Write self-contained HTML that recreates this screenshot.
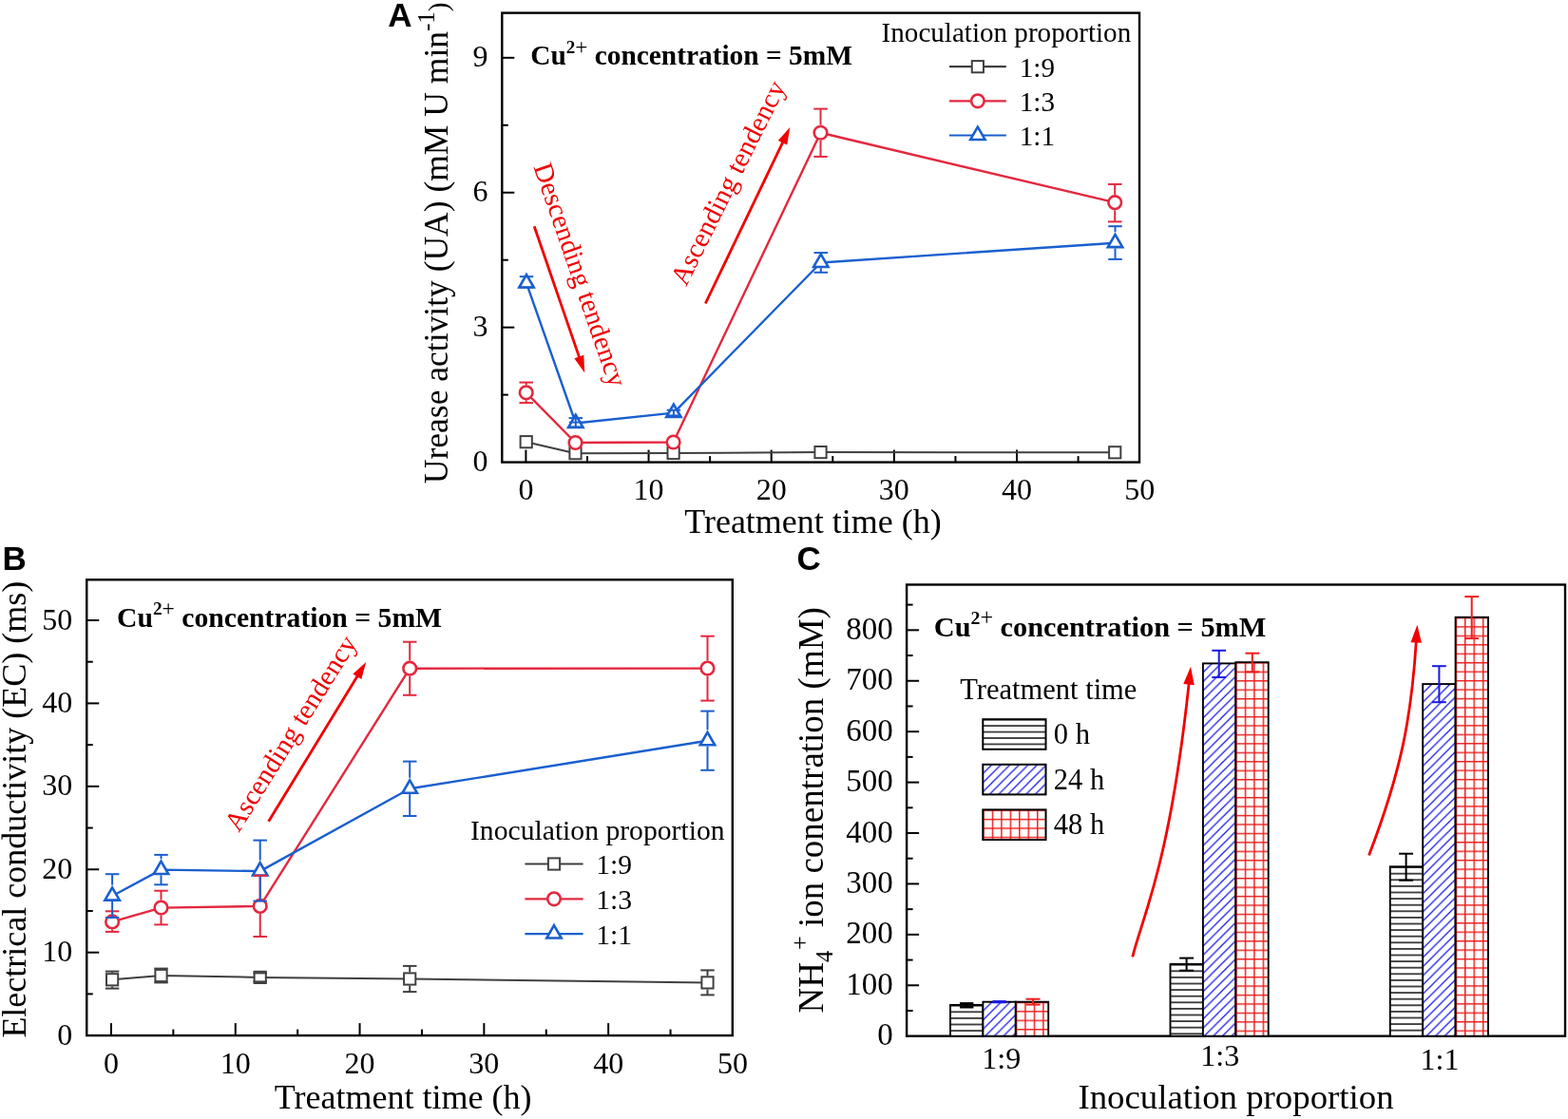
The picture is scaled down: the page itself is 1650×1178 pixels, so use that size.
<!DOCTYPE html>
<html><head><meta charset="utf-8"><title>Figure</title>
<style>html,body{margin:0;padding:0;background:#fff;overflow:hidden;}svg{display:block;}</style></head>
<body><svg width="1650" height="1178" viewBox="0 0 1650 1178">
<rect width="1650" height="1178" fill="#fff"/>
<rect x="528.3" y="13.6" width="670.7" height="473" fill="none" stroke="#000" stroke-width="2.4"/>
<line x1="528.3" y1="344.67" x2="541.3" y2="344.67" stroke="#000" stroke-width="2.0" />
<line x1="528.3" y1="202.74" x2="541.3" y2="202.74" stroke="#000" stroke-width="2.0" />
<line x1="528.3" y1="60.81" x2="541.3" y2="60.81" stroke="#000" stroke-width="2.0" />
<line x1="528.3" y1="415.63" x2="534.8" y2="415.63" stroke="#000" stroke-width="2.0" />
<line x1="528.3" y1="273.71" x2="534.8" y2="273.71" stroke="#000" stroke-width="2.0" />
<line x1="528.3" y1="131.77" x2="534.8" y2="131.77" stroke="#000" stroke-width="2.0" />
<line x1="553.4" y1="486.6" x2="553.4" y2="473.6" stroke="#000" stroke-width="2.0" />
<line x1="682.55" y1="486.6" x2="682.55" y2="473.6" stroke="#000" stroke-width="2.0" />
<line x1="811.7" y1="486.6" x2="811.7" y2="473.6" stroke="#000" stroke-width="2.0" />
<line x1="940.85" y1="486.6" x2="940.85" y2="473.6" stroke="#000" stroke-width="2.0" />
<line x1="1070" y1="486.6" x2="1070" y2="473.6" stroke="#000" stroke-width="2.0" />
<line x1="617.97" y1="486.6" x2="617.97" y2="480.1" stroke="#000" stroke-width="2.0" />
<line x1="747.12" y1="486.6" x2="747.12" y2="480.1" stroke="#000" stroke-width="2.0" />
<line x1="876.27" y1="486.6" x2="876.27" y2="480.1" stroke="#000" stroke-width="2.0" />
<line x1="1005.42" y1="486.6" x2="1005.42" y2="480.1" stroke="#000" stroke-width="2.0" />
<line x1="1134.57" y1="486.6" x2="1134.57" y2="480.1" stroke="#000" stroke-width="2.0" />
<text x="513.5" y="496" font-size="32" text-anchor="end" font-weight="normal" font-family="'Liberation Serif','Times New Roman',serif" fill="#000" >0</text>
<text x="513.5" y="354.07" font-size="32" text-anchor="end" font-weight="normal" font-family="'Liberation Serif','Times New Roman',serif" fill="#000" >3</text>
<text x="513.5" y="212.14" font-size="32" text-anchor="end" font-weight="normal" font-family="'Liberation Serif','Times New Roman',serif" fill="#000" >6</text>
<text x="513.5" y="70.21" font-size="32" text-anchor="end" font-weight="normal" font-family="'Liberation Serif','Times New Roman',serif" fill="#000" >9</text>
<text x="553.4" y="525.8" font-size="32" text-anchor="middle" font-weight="normal" font-family="'Liberation Serif','Times New Roman',serif" fill="#000" >0</text>
<text x="682.55" y="525.8" font-size="32" text-anchor="middle" font-weight="normal" font-family="'Liberation Serif','Times New Roman',serif" fill="#000" >10</text>
<text x="811.7" y="525.8" font-size="32" text-anchor="middle" font-weight="normal" font-family="'Liberation Serif','Times New Roman',serif" fill="#000" >20</text>
<text x="940.85" y="525.8" font-size="32" text-anchor="middle" font-weight="normal" font-family="'Liberation Serif','Times New Roman',serif" fill="#000" >30</text>
<text x="1070" y="525.8" font-size="32" text-anchor="middle" font-weight="normal" font-family="'Liberation Serif','Times New Roman',serif" fill="#000" >40</text>
<text x="1199.15" y="525.8" font-size="32" text-anchor="middle" font-weight="normal" font-family="'Liberation Serif','Times New Roman',serif" fill="#000" >50</text>
<text x="855.5" y="561.4" font-size="36" text-anchor="middle" font-weight="normal" font-family="'Liberation Serif','Times New Roman',serif" fill="#000" >Treatment time (h)</text>
<text transform="translate(471.0,255.8) rotate(-90)" font-size="35.5" text-anchor="middle" font-family="'Liberation Serif','Times New Roman',serif" fill="#000">Urease activity (UA) (mM U min<tspan font-size="25" dy="-14.3">-1</tspan><tspan font-size="29" dy="14.3">)</tspan></text>
<text x="408.3" y="28.2" font-size="35" text-anchor="start" font-weight="bold" font-family="'Liberation Sans',Arial,sans-serif" fill="#000" >A</text>
<text x="558.3" y="68.2" font-size="29.37" font-weight="bold" font-family="'Liberation Serif','Times New Roman',serif" fill="#000">Cu<tspan font-size="19" dy="-12.6">2</tspan><tspan font-size="23.18" font-weight="normal" dy="1.2">+</tspan><tspan dy="11.4"> concentration = 5mM</tspan></text>
<text x="927.6" y="44.3" font-size="29.1" text-anchor="start" font-weight="normal" font-family="'Liberation Serif','Times New Roman',serif" fill="#000" >Inoculation proportion</text>
<line x1="998.9" y1="70.2" x2="1058.8" y2="70.2" stroke="#404040" stroke-width="2.2" />
<rect x="1022.75" y="64.1" width="12.2" height="12.2" fill="#fff" stroke="#404040" stroke-width="2.0"/>
<text x="1072.8" y="80.5" font-size="29.1" text-anchor="start" font-weight="normal" font-family="'Liberation Serif','Times New Roman',serif" fill="#000" >1:9</text>
<line x1="998.9" y1="106.35" x2="1058.8" y2="106.35" stroke="#e3283e" stroke-width="2.2" />
<circle cx="1028.85" cy="106.35" r="6.8" fill="#fff" stroke="#e3283e" stroke-width="2.6"/>
<text x="1072.8" y="116.65" font-size="29.1" text-anchor="start" font-weight="normal" font-family="'Liberation Serif','Times New Roman',serif" fill="#000" >1:3</text>
<line x1="998.9" y1="142.5" x2="1058.8" y2="142.5" stroke="#1a5fcf" stroke-width="2.2" />
<polygon points="1028.85,133.61 1036.55,146.95 1021.15,146.95" fill="#fff" stroke="#1a5fcf" stroke-width="2.6" stroke-linejoin="miter"/>
<text x="1072.8" y="152.8" font-size="29.1" text-anchor="start" font-weight="normal" font-family="'Liberation Serif','Times New Roman',serif" fill="#000" >1:1</text>
<polyline points="553.7,465.2 605.5,477.2 708.6,477 863.5,476.1 1173.2,476.3" fill="none" stroke="#404040" stroke-width="2.0" stroke-linejoin="round"/>
<rect x="547.6" y="459.1" width="12.2" height="12.2" fill="#fff" stroke="#404040" stroke-width="2.0"/>
<rect x="599.4" y="471.1" width="12.2" height="12.2" fill="#fff" stroke="#404040" stroke-width="2.0"/>
<rect x="702.5" y="470.9" width="12.2" height="12.2" fill="#fff" stroke="#404040" stroke-width="2.0"/>
<rect x="857.4" y="470" width="12.2" height="12.2" fill="#fff" stroke="#404040" stroke-width="2.0"/>
<rect x="1167.1" y="470.2" width="12.2" height="12.2" fill="#fff" stroke="#404040" stroke-width="2.0"/>
<polyline points="553.7,413.35 605.5,466 708.6,465.5 863.5,139.75 1173.2,213.2" fill="none" stroke="#e3283e" stroke-width="2.4" stroke-linejoin="round"/>
<circle cx="553.7" cy="413.35" r="6.8" fill="#fff" stroke="#e3283e" stroke-width="2.6"/>
<circle cx="605.5" cy="466" r="6.8" fill="#fff" stroke="#e3283e" stroke-width="2.6"/>
<circle cx="708.6" cy="465.5" r="6.8" fill="#fff" stroke="#e3283e" stroke-width="2.6"/>
<circle cx="863.5" cy="139.75" r="6.8" fill="#fff" stroke="#e3283e" stroke-width="2.6"/>
<circle cx="1173.2" cy="213.2" r="6.8" fill="#fff" stroke="#e3283e" stroke-width="2.6"/>
<polyline points="554,298.05 605.8,445.5 708.9,434.6 863.8,276.5 1173.5,255.7" fill="none" stroke="#1a5fcf" stroke-width="2.4" stroke-linejoin="round"/>
<polygon points="554,289.16 561.7,302.5 546.3,302.5" fill="#fff" stroke="#1a5fcf" stroke-width="2.6" stroke-linejoin="miter"/>
<polygon points="605.8,436.61 613.5,449.95 598.1,449.95" fill="#fff" stroke="#1a5fcf" stroke-width="2.6" stroke-linejoin="miter"/>
<polygon points="708.9,425.71 716.6,439.05 701.2,439.05" fill="#fff" stroke="#1a5fcf" stroke-width="2.6" stroke-linejoin="miter"/>
<polygon points="863.8,267.61 871.5,280.95 856.1,280.95" fill="#fff" stroke="#1a5fcf" stroke-width="2.6" stroke-linejoin="miter"/>
<polygon points="1173.5,246.81 1181.2,260.15 1165.8,260.15" fill="#fff" stroke="#1a5fcf" stroke-width="2.6" stroke-linejoin="miter"/>
<line x1="553.7" y1="402.6" x2="553.7" y2="405.25" stroke="#e3283e" stroke-width="2.0" />
<line x1="553.7" y1="421.45" x2="553.7" y2="424.1" stroke="#e3283e" stroke-width="2.0" />
<line x1="546.45" y1="402.6" x2="560.95" y2="402.6" stroke="#e3283e" stroke-width="2.0" />
<line x1="546.45" y1="424.1" x2="560.95" y2="424.1" stroke="#e3283e" stroke-width="2.0" />
<line x1="863.5" y1="114.6" x2="863.5" y2="131.65" stroke="#e3283e" stroke-width="2.0" />
<line x1="863.5" y1="147.85" x2="863.5" y2="164.9" stroke="#e3283e" stroke-width="2.0" />
<line x1="856.25" y1="114.6" x2="870.75" y2="114.6" stroke="#e3283e" stroke-width="2.0" />
<line x1="856.25" y1="164.9" x2="870.75" y2="164.9" stroke="#e3283e" stroke-width="2.0" />
<line x1="1173.2" y1="193.9" x2="1173.2" y2="205.1" stroke="#e3283e" stroke-width="2.0" />
<line x1="1173.2" y1="221.3" x2="1173.2" y2="233.4" stroke="#e3283e" stroke-width="2.0" />
<line x1="1165.95" y1="193.9" x2="1180.45" y2="193.9" stroke="#e3283e" stroke-width="2.0" />
<line x1="1165.95" y1="233.4" x2="1180.45" y2="233.4" stroke="#e3283e" stroke-width="2.0" />
<line x1="546.75" y1="291.2" x2="561.25" y2="291.2" stroke="#1a5fcf" stroke-width="2.0" />
<line x1="546.75" y1="302.6" x2="561.25" y2="302.6" stroke="#1a5fcf" stroke-width="2.0" />
<line x1="863.8" y1="282.25" x2="863.8" y2="286.8" stroke="#1a5fcf" stroke-width="2.0" />
<line x1="856.55" y1="266.1" x2="871.05" y2="266.1" stroke="#1a5fcf" stroke-width="2.0" />
<line x1="856.55" y1="286.8" x2="871.05" y2="286.8" stroke="#1a5fcf" stroke-width="2.0" />
<line x1="1173.5" y1="238.2" x2="1173.5" y2="244.21" stroke="#1a5fcf" stroke-width="2.0" />
<line x1="1173.5" y1="261.45" x2="1173.5" y2="272.9" stroke="#1a5fcf" stroke-width="2.0" />
<line x1="1166.25" y1="238.2" x2="1180.75" y2="238.2" stroke="#1a5fcf" stroke-width="2.0" />
<line x1="1166.25" y1="272.9" x2="1180.75" y2="272.9" stroke="#1a5fcf" stroke-width="2.0" />
<line x1="605.8" y1="440.1" x2="605.8" y2="449.5" stroke="#1a5fcf" stroke-width="2.0" />
<line x1="598.55" y1="440.1" x2="613.05" y2="440.1" stroke="#1a5fcf" stroke-width="2.0" />
<line x1="598.55" y1="449.5" x2="613.05" y2="449.5" stroke="#1a5fcf" stroke-width="2.0" />
<line x1="708.9" y1="431.7" x2="708.9" y2="437.4" stroke="#1a5fcf" stroke-width="2.0" />
<line x1="701.65" y1="431.7" x2="716.15" y2="431.7" stroke="#1a5fcf" stroke-width="2.0" />
<line x1="701.65" y1="437.4" x2="716.15" y2="437.4" stroke="#1a5fcf" stroke-width="2.0" />
<line x1="599" y1="444.6" x2="612.5" y2="444.6" stroke="#1a5fcf" stroke-width="1.8" />
<line x1="562.2" y1="238.3" x2="610" y2="377.37" stroke="#f00000" stroke-width="2.8" />
<polygon points="615.2,392.5 604.38,377.18 614.31,373.77" fill="#f00000"/>
<line x1="742.3" y1="319.5" x2="824.38" y2="148.43" stroke="#f00000" stroke-width="2.8" />
<polygon points="831.3,134 828.25,152.5 818.78,147.96" fill="#f00000"/>
<text transform="translate(561.3,175.5) rotate(71.0)" font-size="28.8" font-family="'Liberation Serif','Times New Roman',serif" fill="#f00000">Descending tendency</text>
<text transform="translate(721.9,302.3) rotate(-63.5)" font-size="29" font-family="'Liberation Serif','Times New Roman',serif" fill="#f00000">Ascending tendency</text>
<rect x="91.25" y="610.3" width="679.55" height="479.8" fill="none" stroke="#000" stroke-width="2.4"/>
<line x1="91.25" y1="1002.68" x2="104.25" y2="1002.68" stroke="#000" stroke-width="2.0" />
<line x1="91.25" y1="915.26" x2="104.25" y2="915.26" stroke="#000" stroke-width="2.0" />
<line x1="91.25" y1="827.84" x2="104.25" y2="827.84" stroke="#000" stroke-width="2.0" />
<line x1="91.25" y1="740.42" x2="104.25" y2="740.42" stroke="#000" stroke-width="2.0" />
<line x1="91.25" y1="653" x2="104.25" y2="653" stroke="#000" stroke-width="2.0" />
<line x1="91.25" y1="1046.39" x2="97.75" y2="1046.39" stroke="#000" stroke-width="2.0" />
<line x1="91.25" y1="958.97" x2="97.75" y2="958.97" stroke="#000" stroke-width="2.0" />
<line x1="91.25" y1="871.55" x2="97.75" y2="871.55" stroke="#000" stroke-width="2.0" />
<line x1="91.25" y1="784.13" x2="97.75" y2="784.13" stroke="#000" stroke-width="2.0" />
<line x1="91.25" y1="696.71" x2="97.75" y2="696.71" stroke="#000" stroke-width="2.0" />
<line x1="116.95" y1="1090.1" x2="116.95" y2="1077.1" stroke="#000" stroke-width="2.0" />
<line x1="247.75" y1="1090.1" x2="247.75" y2="1077.1" stroke="#000" stroke-width="2.0" />
<line x1="378.55" y1="1090.1" x2="378.55" y2="1077.1" stroke="#000" stroke-width="2.0" />
<line x1="509.35" y1="1090.1" x2="509.35" y2="1077.1" stroke="#000" stroke-width="2.0" />
<line x1="640.15" y1="1090.1" x2="640.15" y2="1077.1" stroke="#000" stroke-width="2.0" />
<line x1="182.35" y1="1090.1" x2="182.35" y2="1083.6" stroke="#000" stroke-width="2.0" />
<line x1="313.15" y1="1090.1" x2="313.15" y2="1083.6" stroke="#000" stroke-width="2.0" />
<line x1="443.95" y1="1090.1" x2="443.95" y2="1083.6" stroke="#000" stroke-width="2.0" />
<line x1="574.75" y1="1090.1" x2="574.75" y2="1083.6" stroke="#000" stroke-width="2.0" />
<line x1="705.55" y1="1090.1" x2="705.55" y2="1083.6" stroke="#000" stroke-width="2.0" />
<text x="76.2" y="1099.7" font-size="32" text-anchor="end" font-weight="normal" font-family="'Liberation Serif','Times New Roman',serif" fill="#000" >0</text>
<text x="76.2" y="1012.28" font-size="32" text-anchor="end" font-weight="normal" font-family="'Liberation Serif','Times New Roman',serif" fill="#000" >10</text>
<text x="76.2" y="924.86" font-size="32" text-anchor="end" font-weight="normal" font-family="'Liberation Serif','Times New Roman',serif" fill="#000" >20</text>
<text x="76.2" y="837.44" font-size="32" text-anchor="end" font-weight="normal" font-family="'Liberation Serif','Times New Roman',serif" fill="#000" >30</text>
<text x="76.2" y="750.02" font-size="32" text-anchor="end" font-weight="normal" font-family="'Liberation Serif','Times New Roman',serif" fill="#000" >40</text>
<text x="76.2" y="662.6" font-size="32" text-anchor="end" font-weight="normal" font-family="'Liberation Serif','Times New Roman',serif" fill="#000" >50</text>
<text x="116.95" y="1130" font-size="32" text-anchor="middle" font-weight="normal" font-family="'Liberation Serif','Times New Roman',serif" fill="#000" >0</text>
<text x="247.75" y="1130" font-size="32" text-anchor="middle" font-weight="normal" font-family="'Liberation Serif','Times New Roman',serif" fill="#000" >10</text>
<text x="378.55" y="1130" font-size="32" text-anchor="middle" font-weight="normal" font-family="'Liberation Serif','Times New Roman',serif" fill="#000" >20</text>
<text x="509.35" y="1130" font-size="32" text-anchor="middle" font-weight="normal" font-family="'Liberation Serif','Times New Roman',serif" fill="#000" >30</text>
<text x="640.15" y="1130" font-size="32" text-anchor="middle" font-weight="normal" font-family="'Liberation Serif','Times New Roman',serif" fill="#000" >40</text>
<text x="770.95" y="1130" font-size="32" text-anchor="middle" font-weight="normal" font-family="'Liberation Serif','Times New Roman',serif" fill="#000" >50</text>
<text x="424.1" y="1167.1" font-size="36" text-anchor="middle" font-weight="normal" font-family="'Liberation Serif','Times New Roman',serif" fill="#000" >Treatment time (h)</text>
<text transform="translate(27.1,852.2) rotate(-90)" font-size="36" text-anchor="middle" font-family="'Liberation Serif','Times New Roman',serif" fill="#000">Electrical conductivity (EC) (ms)</text>
<text x="2.5" y="600.2" font-size="35" text-anchor="start" font-weight="bold" font-family="'Liberation Sans',Arial,sans-serif" fill="#000" >B</text>
<text x="123" y="659.8" font-size="29.66" font-weight="bold" font-family="'Liberation Serif','Times New Roman',serif" fill="#000">Cu<tspan font-size="19.3" dy="-12.8">2</tspan><tspan font-size="23.55" font-weight="normal" dy="1.2">+</tspan><tspan dy="11.6"> concentration = 5mM</tspan></text>
<text x="495" y="883.6" font-size="29.65" text-anchor="start" font-weight="normal" font-family="'Liberation Serif','Times New Roman',serif" fill="#000" >Inoculation proportion</text>
<line x1="552.4" y1="909.5" x2="613.6" y2="909.5" stroke="#404040" stroke-width="2.2" />
<rect x="576.9" y="903.4" width="12.2" height="12.2" fill="#fff" stroke="#404040" stroke-width="2.0"/>
<text x="627.2" y="920" font-size="29.65" text-anchor="start" font-weight="normal" font-family="'Liberation Serif','Times New Roman',serif" fill="#000" >1:9</text>
<line x1="552.4" y1="946.3" x2="613.6" y2="946.3" stroke="#e3283e" stroke-width="2.2" />
<circle cx="583" cy="946.3" r="6.8" fill="#fff" stroke="#e3283e" stroke-width="2.6"/>
<text x="627.2" y="956.8" font-size="29.65" text-anchor="start" font-weight="normal" font-family="'Liberation Serif','Times New Roman',serif" fill="#000" >1:3</text>
<line x1="552.4" y1="983.1" x2="613.6" y2="983.1" stroke="#1a5fcf" stroke-width="2.2" />
<polygon points="583,974.21 590.7,987.55 575.3,987.55" fill="#fff" stroke="#1a5fcf" stroke-width="2.6" stroke-linejoin="miter"/>
<text x="627.2" y="993.6" font-size="29.65" text-anchor="start" font-weight="normal" font-family="'Liberation Serif','Times New Roman',serif" fill="#000" >1:1</text>
<polyline points="118.1,1031.3 169.5,1027 273.7,1028.9 431.2,1030.5 744.5,1034.4" fill="none" stroke="#404040" stroke-width="2.0" stroke-linejoin="round"/>
<rect x="112" y="1025.2" width="12.2" height="12.2" fill="#fff" stroke="#404040" stroke-width="2.0"/>
<rect x="163.4" y="1020.9" width="12.2" height="12.2" fill="#fff" stroke="#404040" stroke-width="2.0"/>
<rect x="267.6" y="1022.8" width="12.2" height="12.2" fill="#fff" stroke="#404040" stroke-width="2.0"/>
<rect x="425.1" y="1024.4" width="12.2" height="12.2" fill="#fff" stroke="#404040" stroke-width="2.0"/>
<rect x="738.4" y="1028.3" width="12.2" height="12.2" fill="#fff" stroke="#404040" stroke-width="2.0"/>
<polyline points="118.1,970.4 169.5,955.6 273.7,953.9 431.2,703.7 744.5,703.6" fill="none" stroke="#e3283e" stroke-width="2.4" stroke-linejoin="round"/>
<circle cx="118.1" cy="970.4" r="6.8" fill="#fff" stroke="#e3283e" stroke-width="2.6"/>
<circle cx="169.5" cy="955.6" r="6.8" fill="#fff" stroke="#e3283e" stroke-width="2.6"/>
<circle cx="273.7" cy="953.9" r="6.8" fill="#fff" stroke="#e3283e" stroke-width="2.6"/>
<circle cx="431.2" cy="703.7" r="6.8" fill="#fff" stroke="#e3283e" stroke-width="2.6"/>
<circle cx="744.5" cy="703.6" r="6.8" fill="#fff" stroke="#e3283e" stroke-width="2.6"/>
<polyline points="118.1,943.2 169.5,915.6 273.7,917.1 431.2,830.3 744.5,779.8" fill="none" stroke="#1a5fcf" stroke-width="2.4" stroke-linejoin="round"/>
<polygon points="118.1,934.31 125.8,947.65 110.4,947.65" fill="#fff" stroke="#1a5fcf" stroke-width="2.6" stroke-linejoin="miter"/>
<polygon points="169.5,906.71 177.2,920.05 161.8,920.05" fill="#fff" stroke="#1a5fcf" stroke-width="2.6" stroke-linejoin="miter"/>
<polygon points="273.7,908.21 281.4,921.55 266,921.55" fill="#fff" stroke="#1a5fcf" stroke-width="2.6" stroke-linejoin="miter"/>
<polygon points="431.2,821.41 438.9,834.75 423.5,834.75" fill="#fff" stroke="#1a5fcf" stroke-width="2.6" stroke-linejoin="miter"/>
<polygon points="744.5,770.91 752.2,784.25 736.8,784.25" fill="#fff" stroke="#1a5fcf" stroke-width="2.6" stroke-linejoin="miter"/>
<line x1="118.1" y1="1022.6" x2="118.1" y2="1024.2" stroke="#404040" stroke-width="2.0" />
<line x1="118.1" y1="1038.4" x2="118.1" y2="1040.6" stroke="#404040" stroke-width="2.0" />
<line x1="110.85" y1="1022.6" x2="125.35" y2="1022.6" stroke="#404040" stroke-width="2.0" />
<line x1="110.85" y1="1040.6" x2="125.35" y2="1040.6" stroke="#404040" stroke-width="2.0" />
<line x1="169.5" y1="1019.6" x2="169.5" y2="1019.9" stroke="#404040" stroke-width="2.0" />
<line x1="169.5" y1="1034.1" x2="169.5" y2="1034.4" stroke="#404040" stroke-width="2.0" />
<line x1="162.25" y1="1019.6" x2="176.75" y2="1019.6" stroke="#404040" stroke-width="2.0" />
<line x1="162.25" y1="1034.4" x2="176.75" y2="1034.4" stroke="#404040" stroke-width="2.0" />
<line x1="266.45" y1="1024.4" x2="280.95" y2="1024.4" stroke="#404040" stroke-width="2.0" />
<line x1="266.45" y1="1033.4" x2="280.95" y2="1033.4" stroke="#404040" stroke-width="2.0" />
<line x1="431.2" y1="1016.9" x2="431.2" y2="1023.4" stroke="#404040" stroke-width="2.0" />
<line x1="431.2" y1="1037.6" x2="431.2" y2="1044.1" stroke="#404040" stroke-width="2.0" />
<line x1="423.95" y1="1016.9" x2="438.45" y2="1016.9" stroke="#404040" stroke-width="2.0" />
<line x1="423.95" y1="1044.1" x2="438.45" y2="1044.1" stroke="#404040" stroke-width="2.0" />
<line x1="744.5" y1="1021.4" x2="744.5" y2="1027.3" stroke="#404040" stroke-width="2.0" />
<line x1="744.5" y1="1041.5" x2="744.5" y2="1047.4" stroke="#404040" stroke-width="2.0" />
<line x1="737.25" y1="1021.4" x2="751.75" y2="1021.4" stroke="#404040" stroke-width="2.0" />
<line x1="737.25" y1="1047.4" x2="751.75" y2="1047.4" stroke="#404040" stroke-width="2.0" />
<line x1="118.1" y1="959.3" x2="118.1" y2="962.3" stroke="#e3283e" stroke-width="2.0" />
<line x1="118.1" y1="978.5" x2="118.1" y2="980.9" stroke="#e3283e" stroke-width="2.0" />
<line x1="110.85" y1="959.3" x2="125.35" y2="959.3" stroke="#e3283e" stroke-width="2.0" />
<line x1="110.85" y1="980.9" x2="125.35" y2="980.9" stroke="#e3283e" stroke-width="2.0" />
<line x1="169.5" y1="937.7" x2="169.5" y2="947.5" stroke="#e3283e" stroke-width="2.0" />
<line x1="169.5" y1="963.7" x2="169.5" y2="973.4" stroke="#e3283e" stroke-width="2.0" />
<line x1="162.25" y1="937.7" x2="176.75" y2="937.7" stroke="#e3283e" stroke-width="2.0" />
<line x1="162.25" y1="973.4" x2="176.75" y2="973.4" stroke="#e3283e" stroke-width="2.0" />
<line x1="273.7" y1="921.8" x2="273.7" y2="945.8" stroke="#e3283e" stroke-width="2.0" />
<line x1="273.7" y1="962" x2="273.7" y2="986" stroke="#e3283e" stroke-width="2.0" />
<line x1="266.45" y1="921.8" x2="280.95" y2="921.8" stroke="#e3283e" stroke-width="2.0" />
<line x1="266.45" y1="986" x2="280.95" y2="986" stroke="#e3283e" stroke-width="2.0" />
<line x1="431.2" y1="675.7" x2="431.2" y2="695.6" stroke="#e3283e" stroke-width="2.0" />
<line x1="431.2" y1="711.8" x2="431.2" y2="731.8" stroke="#e3283e" stroke-width="2.0" />
<line x1="423.95" y1="675.7" x2="438.45" y2="675.7" stroke="#e3283e" stroke-width="2.0" />
<line x1="423.95" y1="731.8" x2="438.45" y2="731.8" stroke="#e3283e" stroke-width="2.0" />
<line x1="744.5" y1="669.7" x2="744.5" y2="695.5" stroke="#e3283e" stroke-width="2.0" />
<line x1="744.5" y1="711.7" x2="744.5" y2="737.6" stroke="#e3283e" stroke-width="2.0" />
<line x1="737.25" y1="669.7" x2="751.75" y2="669.7" stroke="#e3283e" stroke-width="2.0" />
<line x1="737.25" y1="737.6" x2="751.75" y2="737.6" stroke="#e3283e" stroke-width="2.0" />
<line x1="118.1" y1="920.2" x2="118.1" y2="931.71" stroke="#1a5fcf" stroke-width="2.0" />
<line x1="118.1" y1="948.95" x2="118.1" y2="966" stroke="#1a5fcf" stroke-width="2.0" />
<line x1="110.85" y1="920.2" x2="125.35" y2="920.2" stroke="#1a5fcf" stroke-width="2.0" />
<line x1="110.85" y1="966" x2="125.35" y2="966" stroke="#1a5fcf" stroke-width="2.0" />
<line x1="169.5" y1="899.9" x2="169.5" y2="904.11" stroke="#1a5fcf" stroke-width="2.0" />
<line x1="169.5" y1="921.35" x2="169.5" y2="931.3" stroke="#1a5fcf" stroke-width="2.0" />
<line x1="162.25" y1="899.9" x2="176.75" y2="899.9" stroke="#1a5fcf" stroke-width="2.0" />
<line x1="162.25" y1="931.3" x2="176.75" y2="931.3" stroke="#1a5fcf" stroke-width="2.0" />
<line x1="273.7" y1="884.6" x2="273.7" y2="905.61" stroke="#1a5fcf" stroke-width="2.0" />
<line x1="273.7" y1="922.85" x2="273.7" y2="948.6" stroke="#1a5fcf" stroke-width="2.0" />
<line x1="266.45" y1="884.6" x2="280.95" y2="884.6" stroke="#1a5fcf" stroke-width="2.0" />
<line x1="266.45" y1="948.6" x2="280.95" y2="948.6" stroke="#1a5fcf" stroke-width="2.0" />
<line x1="431.2" y1="801.6" x2="431.2" y2="818.81" stroke="#1a5fcf" stroke-width="2.0" />
<line x1="431.2" y1="836.05" x2="431.2" y2="859" stroke="#1a5fcf" stroke-width="2.0" />
<line x1="423.95" y1="801.6" x2="438.45" y2="801.6" stroke="#1a5fcf" stroke-width="2.0" />
<line x1="423.95" y1="859" x2="438.45" y2="859" stroke="#1a5fcf" stroke-width="2.0" />
<line x1="744.5" y1="748.6" x2="744.5" y2="768.31" stroke="#1a5fcf" stroke-width="2.0" />
<line x1="744.5" y1="785.55" x2="744.5" y2="810.8" stroke="#1a5fcf" stroke-width="2.0" />
<line x1="737.25" y1="748.6" x2="751.75" y2="748.6" stroke="#1a5fcf" stroke-width="2.0" />
<line x1="737.25" y1="810.8" x2="751.75" y2="810.8" stroke="#1a5fcf" stroke-width="2.0" />
<line x1="282.6" y1="864.8" x2="376.86" y2="710.55" stroke="#f00000" stroke-width="2.8" />
<polygon points="385.2,696.9 380.29,715 371.33,709.52" fill="#f00000"/>
<text transform="translate(251.3,876.9) rotate(-58.0)" font-size="29" font-family="'Liberation Serif','Times New Roman',serif" fill="#f00000">Ascending tendency</text>
<rect x="954.1" y="615.5" width="692.9" height="475.2" fill="none" stroke="#000" stroke-width="2.4"/>
<line x1="954.1" y1="1037.28" x2="967.1" y2="1037.28" stroke="#000" stroke-width="2.0" />
<line x1="954.1" y1="983.86" x2="967.1" y2="983.86" stroke="#000" stroke-width="2.0" />
<line x1="954.1" y1="930.44" x2="967.1" y2="930.44" stroke="#000" stroke-width="2.0" />
<line x1="954.1" y1="877.02" x2="967.1" y2="877.02" stroke="#000" stroke-width="2.0" />
<line x1="954.1" y1="823.6" x2="967.1" y2="823.6" stroke="#000" stroke-width="2.0" />
<line x1="954.1" y1="770.18" x2="967.1" y2="770.18" stroke="#000" stroke-width="2.0" />
<line x1="954.1" y1="716.76" x2="967.1" y2="716.76" stroke="#000" stroke-width="2.0" />
<line x1="954.1" y1="663.34" x2="967.1" y2="663.34" stroke="#000" stroke-width="2.0" />
<line x1="954.1" y1="1063.99" x2="960.6" y2="1063.99" stroke="#000" stroke-width="2.0" />
<line x1="954.1" y1="1010.57" x2="960.6" y2="1010.57" stroke="#000" stroke-width="2.0" />
<line x1="954.1" y1="957.15" x2="960.6" y2="957.15" stroke="#000" stroke-width="2.0" />
<line x1="954.1" y1="903.73" x2="960.6" y2="903.73" stroke="#000" stroke-width="2.0" />
<line x1="954.1" y1="850.31" x2="960.6" y2="850.31" stroke="#000" stroke-width="2.0" />
<line x1="954.1" y1="796.89" x2="960.6" y2="796.89" stroke="#000" stroke-width="2.0" />
<line x1="954.1" y1="743.47" x2="960.6" y2="743.47" stroke="#000" stroke-width="2.0" />
<line x1="954.1" y1="690.05" x2="960.6" y2="690.05" stroke="#000" stroke-width="2.0" />
<line x1="954.1" y1="636.63" x2="960.6" y2="636.63" stroke="#000" stroke-width="2.0" />
<text x="939.8" y="1100.3" font-size="33" text-anchor="end" font-weight="normal" font-family="'Liberation Serif','Times New Roman',serif" fill="#000" >0</text>
<text x="939.8" y="1046.88" font-size="33" text-anchor="end" font-weight="normal" font-family="'Liberation Serif','Times New Roman',serif" fill="#000" >100</text>
<text x="939.8" y="993.46" font-size="33" text-anchor="end" font-weight="normal" font-family="'Liberation Serif','Times New Roman',serif" fill="#000" >200</text>
<text x="939.8" y="940.04" font-size="33" text-anchor="end" font-weight="normal" font-family="'Liberation Serif','Times New Roman',serif" fill="#000" >300</text>
<text x="939.8" y="886.62" font-size="33" text-anchor="end" font-weight="normal" font-family="'Liberation Serif','Times New Roman',serif" fill="#000" >400</text>
<text x="939.8" y="833.2" font-size="33" text-anchor="end" font-weight="normal" font-family="'Liberation Serif','Times New Roman',serif" fill="#000" >500</text>
<text x="939.8" y="779.78" font-size="33" text-anchor="end" font-weight="normal" font-family="'Liberation Serif','Times New Roman',serif" fill="#000" >600</text>
<text x="939.8" y="726.36" font-size="33" text-anchor="end" font-weight="normal" font-family="'Liberation Serif','Times New Roman',serif" fill="#000" >700</text>
<text x="939.8" y="672.94" font-size="33" text-anchor="end" font-weight="normal" font-family="'Liberation Serif','Times New Roman',serif" fill="#000" >800</text>
<text x="1053.7" y="1125.2" font-size="32" text-anchor="middle" font-weight="normal" font-family="'Liberation Serif','Times New Roman',serif" fill="#000" >1:9</text>
<text x="1283.7" y="1122" font-size="32" text-anchor="middle" font-weight="normal" font-family="'Liberation Serif','Times New Roman',serif" fill="#000" >1:3</text>
<text x="1515" y="1125.5" font-size="32" text-anchor="middle" font-weight="normal" font-family="'Liberation Serif','Times New Roman',serif" fill="#000" >1:1</text>
<text x="1300.5" y="1167.3" font-size="36.8" text-anchor="middle" font-weight="normal" font-family="'Liberation Serif','Times New Roman',serif" fill="#000" >Inoculation proportion</text>
<text transform="translate(865.5,852.8) rotate(-90)" font-size="37" text-anchor="middle" font-family="'Liberation Serif','Times New Roman',serif" fill="#000">NH<tspan font-size="24.5" dy="10.5">4</tspan><tspan font-size="26" dy="-26" dx="0.8">+</tspan><tspan dy="15.5"> ion conentration (mM)</tspan></text>
<text x="838.5" y="600" font-size="35" text-anchor="start" font-weight="bold" font-family="'Liberation Sans',Arial,sans-serif" fill="#000" >C</text>
<text x="982.8" y="669.8" font-size="30.3" font-weight="bold" font-family="'Liberation Serif','Times New Roman',serif" fill="#000">Cu<tspan font-size="19.8" dy="-13">2</tspan><tspan font-size="24.16" font-weight="normal" dy="1.2">+</tspan><tspan dy="11.8"> concentration = 5mM</tspan></text>
<defs>
<pattern id="ph" patternUnits="userSpaceOnUse" width="40" height="6.6" y="0.8"><rect width="40" height="6.6" fill="#fff"/><path d="M0,0 H40 M0,6.6 H40" stroke="#000" stroke-width="1.5"/></pattern>
<pattern id="phl" patternUnits="userSpaceOnUse" width="80" height="6.45" y="0.45"><rect width="80" height="6.45" fill="#fff"/><path d="M0,0 H80 M0,6.45 H80" stroke="#000" stroke-width="1.5"/></pattern>
<pattern id="pd" patternUnits="userSpaceOnUse" width="9.6" height="9.6"><rect width="9.6" height="9.6" fill="#fff"/><path d="M-1,10.6 L10.6,-1 M-5.8,5.8 L5.8,-5.8 M3.8,15.4 L15.4,3.8" stroke="#1a1ae6" stroke-width="1.3"/></pattern>
<pattern id="pg" patternUnits="userSpaceOnUse" width="9.45" height="9.45"><rect width="9.45" height="9.45" fill="#fff"/><path d="M0,0.7 H9.45 M0.7,0 V9.45" stroke="#ee1c1c" stroke-width="1.5"/></pattern>
</defs>
<g transform="translate(1000,1057.9)"><rect x="0" y="0" width="34.4" height="32.8" fill="url(#ph)" stroke="#000" stroke-width="1.9"/></g>
<g transform="translate(1034.4,1054.7)"><rect x="0" y="0" width="34.4" height="36" fill="url(#pd)" stroke="#000" stroke-width="1.9"/></g>
<g transform="translate(1068.8,1054.7)"><rect x="0" y="0" width="34.4" height="36" fill="url(#pg)" stroke="#000" stroke-width="1.9"/></g>
<g transform="translate(1231.5,1014.9)"><rect x="0" y="0" width="34.4" height="75.8" fill="url(#ph)" stroke="#000" stroke-width="1.9"/></g>
<g transform="translate(1265.9,698.4)"><rect x="0" y="0" width="34.4" height="392.3" fill="url(#pd)" stroke="#000" stroke-width="1.9"/></g>
<g transform="translate(1300.3,697.2)"><rect x="0" y="0" width="34.4" height="393.5" fill="url(#pg)" stroke="#000" stroke-width="1.9"/></g>
<g transform="translate(1462.8,912.3)"><rect x="0" y="0" width="34.4" height="178.4" fill="url(#ph)" stroke="#000" stroke-width="1.9"/></g>
<g transform="translate(1497.2,720.1)"><rect x="0" y="0" width="34.4" height="370.6" fill="url(#pd)" stroke="#000" stroke-width="1.9"/></g>
<g transform="translate(1531.6,649.8)"><rect x="0" y="0" width="34.4" height="440.9" fill="url(#pg)" stroke="#000" stroke-width="1.9"/></g>
<line x1="1017.2" y1="1056.3" x2="1017.2" y2="1060.3" stroke="#000" stroke-width="2.4" />
<line x1="1010" y1="1056.3" x2="1024.4" y2="1056.3" stroke="#000" stroke-width="2.4" />
<line x1="1010" y1="1060.3" x2="1024.4" y2="1060.3" stroke="#000" stroke-width="2.4" />
<line x1="1051.6" y1="1054.2" x2="1051.6" y2="1055.2" stroke="#1a1ae6" stroke-width="2.2" />
<line x1="1044.4" y1="1054.2" x2="1058.8" y2="1054.2" stroke="#1a1ae6" stroke-width="2.2" />
<line x1="1044.4" y1="1055.2" x2="1058.8" y2="1055.2" stroke="#1a1ae6" stroke-width="2.2" />
<line x1="1087" y1="1051.7" x2="1087" y2="1057.6" stroke="#ee1c1c" stroke-width="2.0" />
<line x1="1079.5" y1="1051.7" x2="1094.5" y2="1051.7" stroke="#ee1c1c" stroke-width="2.0" />
<line x1="1079.5" y1="1057.6" x2="1094.5" y2="1057.6" stroke="#ee1c1c" stroke-width="2.0" />
<line x1="1248.6" y1="1008.6" x2="1248.6" y2="1021.7" stroke="#000" stroke-width="2.0" />
<line x1="1241.15" y1="1008.6" x2="1256.05" y2="1008.6" stroke="#000" stroke-width="2.0" />
<line x1="1241.15" y1="1021.7" x2="1256.05" y2="1021.7" stroke="#000" stroke-width="2.0" />
<line x1="1282.7" y1="684.8" x2="1282.7" y2="713" stroke="#1a1ae6" stroke-width="2.0" />
<line x1="1275.3" y1="684.8" x2="1290.1" y2="684.8" stroke="#1a1ae6" stroke-width="2.0" />
<line x1="1275.3" y1="713" x2="1290.1" y2="713" stroke="#1a1ae6" stroke-width="2.0" />
<line x1="1317.8" y1="687.7" x2="1317.8" y2="707.4" stroke="#ee1c1c" stroke-width="2.0" />
<line x1="1310.45" y1="687.7" x2="1325.15" y2="687.7" stroke="#ee1c1c" stroke-width="2.0" />
<line x1="1310.45" y1="707.4" x2="1325.15" y2="707.4" stroke="#ee1c1c" stroke-width="2.0" />
<line x1="1479.6" y1="898.7" x2="1479.6" y2="926.7" stroke="#000" stroke-width="2.0" />
<line x1="1472.15" y1="898.7" x2="1487.05" y2="898.7" stroke="#000" stroke-width="2.0" />
<line x1="1472.15" y1="926.7" x2="1487.05" y2="926.7" stroke="#000" stroke-width="2.0" />
<line x1="1514.4" y1="701.2" x2="1514.4" y2="739.2" stroke="#1a1ae6" stroke-width="2.0" />
<line x1="1507" y1="701.2" x2="1521.8" y2="701.2" stroke="#1a1ae6" stroke-width="2.0" />
<line x1="1507" y1="739.2" x2="1521.8" y2="739.2" stroke="#1a1ae6" stroke-width="2.0" />
<line x1="1548.7" y1="628.1" x2="1548.7" y2="672.1" stroke="#ee1c1c" stroke-width="2.0" />
<line x1="1541.3" y1="628.1" x2="1556.1" y2="628.1" stroke="#ee1c1c" stroke-width="2.0" />
<line x1="1541.3" y1="672.1" x2="1556.1" y2="672.1" stroke="#ee1c1c" stroke-width="2.0" />
<path d="M1191.8,1007.4 C1200.8,968.4 1230.4,914.5 1251.21,718.61" fill="none" stroke="#f00000" stroke-width="2.8"/>
<polygon points="1253,701.8 1256.72,721.21 1245.28,719.99" fill="#f00000"/>
<path d="M1440.5,900.5 C1474.5,811.8 1485.1,756.3 1490.33,674.5" fill="none" stroke="#f00000" stroke-width="2.8"/>
<polygon points="1491.4,657.7 1495.94,676.87 1484.46,676.13" fill="#f00000"/>
<text x="1010.3" y="735.7" font-size="30.5" text-anchor="start" font-weight="normal" font-family="'Liberation Serif','Times New Roman',serif" fill="#000" >Treatment time</text>
<g transform="translate(1034.3,757.2)"><rect x="0" y="0" width="66.2" height="31.6" fill="url(#phl)" stroke="#000" stroke-width="2"/></g>
<text x="1108.8" y="783.2" font-size="30.5" text-anchor="start" font-weight="normal" font-family="'Liberation Serif','Times New Roman',serif" fill="#000" >0 h</text>
<g transform="translate(1034.3,804.8)"><rect x="0" y="0" width="66.2" height="31.6" fill="url(#pd)" stroke="#000" stroke-width="2"/></g>
<text x="1108.8" y="830.8" font-size="30.5" text-anchor="start" font-weight="normal" font-family="'Liberation Serif','Times New Roman',serif" fill="#000" >24 h</text>
<g transform="translate(1034.3,852.4)"><rect x="0" y="0" width="66.2" height="31.6" fill="url(#pg)" stroke="#000" stroke-width="2"/></g>
<text x="1108.8" y="878.4" font-size="30.5" text-anchor="start" font-weight="normal" font-family="'Liberation Serif','Times New Roman',serif" fill="#000" >48 h</text>
</svg></body></html>
